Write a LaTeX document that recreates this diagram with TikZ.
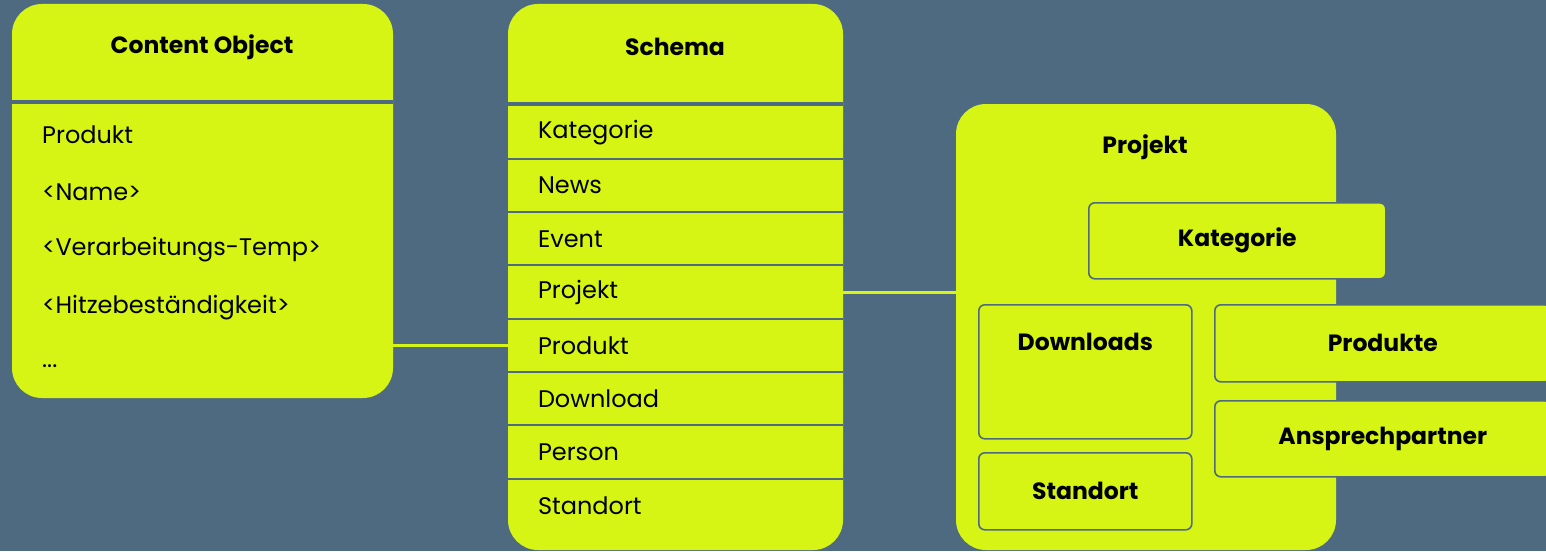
\documentclass[tikz,border=0pt]{standalone}
\usepackage{fontspec}
\setmainfont{Poppins}
\usetikzlibrary{positioning}
\definecolor{slate}{RGB}{78,106,128}
\definecolor{lime}{RGB}{214,245,20}

\begin{document}
\begin{tikzpicture}[x=1pt, y=-1pt, node distance=0pt,
    font=\fontsize{24}{28}\selectfont,
    panel/.style={fill=lime, rounded corners=30pt, inner sep=0pt, outer sep=0pt, anchor=north west},
    head/.style={font=\fontsize{23.5}{28}\selectfont\bfseries, inner sep=0pt},
    row/.style={inner xsep=30pt, inner ysep=0pt, outer sep=0pt, minimum width=335pt, text width=275pt, minimum height=53.3pt, align=left},
    item/.style={anchor=west, inner sep=0pt},
    sep/.style={draw=slate, line width=2pt},
    inbox/.style={draw=slate, line width=1.6pt, fill=lime, rounded corners=6pt, anchor=north west, inner sep=0pt, font=\fontsize{23.5}{28}\selectfont\bfseries},
    link/.style={draw=lime, line width=3pt}]
    \fill[slate] (0,0) rectangle (1546,551);
    \clip (0,0) rectangle (1546,551);

    % content object
    \node [panel, minimum width=381pt, minimum height=394pt] (content) at (12,4) {};
    \draw [sep, line width=4pt] ([yshift=-98pt]content.north west) -- ([yshift=-98pt]content.north east);
    \node [head] (contenttitle) at (202,47) {Content Object};
    \node [item] (c1) at (42,135) {Produkt};
    \node [item] (c2) at (42,192) {<Name>};
    \node [item] (c3) at (42,250) {<Verarbeitungs-Temp>};
    \node [item] (c4) at (42,308) {<Hitzebeständigkeit>};
    \node [item] (c5) at (42,366) {...};

    % schema
    \node [panel, minimum width=335pt, minimum height=546pt] (schema) at (508,4) {};
    \node [head] (schematitle) at (675,47) {Schema};
    \node [row, anchor=north west] (r1) at (508,105.5) {Kategorie};
    \node [row, below=of r1] (r2) {News};
    \node [row, below=of r2] (r3) {Event};
    \node [row, below=of r3] (r4) {Projekt};
    \node [row, below=of r4] (r5) {Produkt};
    \node [row, below=of r5] (r6) {Download};
    \node [row, below=of r6] (r7) {Person};
    \node [row, below=of r7] (r8) {Standort};
    \draw [sep, line width=4pt] ([yshift=2pt]r1.north west) -- ([yshift=2pt]r1.north east);
    \draw [sep] (r1.south west) -- (r1.south east);
    \draw [sep] (r2.south west) -- (r2.south east);
    \draw [sep] (r3.south west) -- (r3.south east);
    \draw [sep] (r4.south west) -- (r4.south east);
    \draw [sep] (r5.south west) -- (r5.south east);
    \draw [sep] (r6.south west) -- (r6.south east);
    \draw [sep] (r7.south west) -- (r7.south east);

    % projekt
    \node [panel, minimum width=380pt, minimum height=446pt] (projekt) at (956,104) {};
    \node [head] (projekttitle) at (1145,147) {Projekt};
    \node [inbox, minimum width=297pt, minimum height=76pt] (kat) at (1088,202) {Kategorie};
    \node [inbox, minimum width=213pt, minimum height=134pt] (downloads) at (978,304) {};
    \node [head, below=29pt of downloads.north] (downloadstitle) {Downloads};
    \node [inbox, minimum width=213pt, minimum height=77pt] (standort) at (978,452) {Standort};
    \node [inbox, minimum width=336pt, minimum height=77pt] (produkte) at (1214,304) {Produkte};
    \node [inbox, minimum width=336pt, minimum height=76pt] (partner) at (1214,400) {Ansprechpartner};

    \draw [link] (content.east |- r5.west) -- (r5.west);
    \draw [link] (r4.east) -- (r4.east -| projekt.west);
\end{tikzpicture}
\end{document}
